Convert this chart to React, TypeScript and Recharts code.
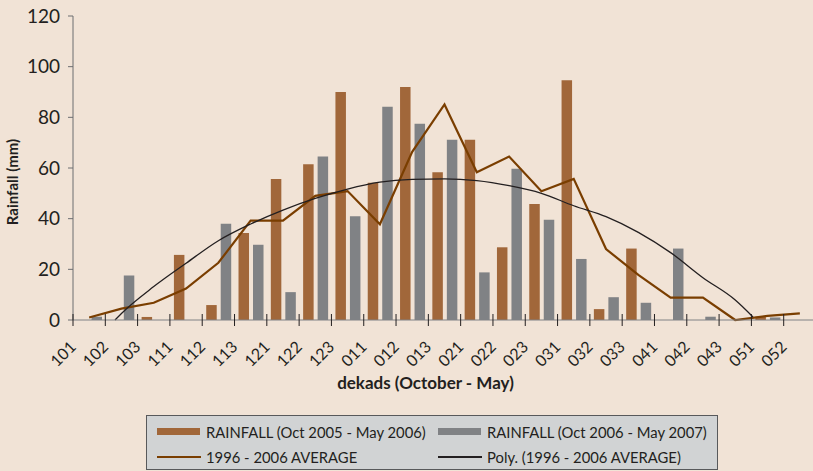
import { Bar, ComposedChart, Label, Line, XAxis, YAxis } from 'recharts';

const categories = ['101', '102', '103', '111', '112', '113', '121', '122', '123', '011', '012', '013', '021', '022', '023', '031', '032', '033', '041', '042', '043', '051', '052'];

// RAINFALL (Oct 2005 - May 2006)
const rain0506 = [0, 0, 1.2, 25.7, 5.9, 34.3, 55.7, 61.5, 90, 54.2, 92, 58.3, 71.2, 28.7, 45.8, 94.6, 4.3, 28.2, 0, 0, 0, 1.3, 0];
// RAINFALL (Oct 2006 - May 2007)
const rain0607 = [1.3, 17.6, 0, 0, 38, 29.7, 11, 64.5, 41, 84.2, 77.5, 71.2, 18.8, 59.7, 39.6, 24.1, 9, 6.8, 28.2, 1.3, 0, 1, 0];
// 1996 - 2006 AVERAGE
const average = [1.0, 4.5, 6.8, 12.4, 22.6, 39.2, 39.2, 49, 50.9, 37.8, 66.4, 85.1, 58.3, 64.5, 50.8, 55.7, 28.0, 17.8, 8.8, 8.8, 0, 1.6, 2.6];

// Poly. trendline (x in dekad units from the axis start)
const polyPos = [1.3, 1.5, 2.5, 3.5, 4.5, 5.5, 6.5, 7.5, 8.5, 9.5, 10.5, 11.5, 12.5, 13.5, 14.5, 15.5, 16.5, 17.5, 18.5, 19.5, 20.5, 21.05];
const polyVal = [0, 2.6, 13.2, 22.4, 31.3, 37.9, 43.4, 48.0, 51.7, 54.4, 55.5, 55.7, 55.0, 53.0, 50.0, 45.1, 40.8, 34.6, 26.6, 16.7, 7.9, 1.2];

const yTicks = [0, 20, 40, 60, 80, 100, 120];

const data = categories.map((cat, i) => ({
  cat,
  pos: i + 0.5,
  r1: rain0506[i],
  r2: rain0607[i],
  avg: average[i]
}));

const polyData = polyPos.map((pos, i) => ({ pos, poly: polyVal[i] }));

const tickPositions = categories.map((_, i) => i).concat(categories.length);

const BROWN = '#A1673A';
const GREY = '#808285';
const AVG = '#7A3E00';
const INK = '#231F20';

function DekadTick(props: any) {
  const { x, y, payload } = props;
  const label = categories[payload.value];
  const tx = x + 4;
  const ty = y + 28;
  return (
    <g>
      <line x1={x} x2={x} y1={y - 6} y2={y + 6} stroke={INK} strokeWidth={1} />
      {label && (
        <text x={tx} y={ty} transform={`rotate(-45, ${tx}, ${ty})`} textAnchor="end" fontSize={16} fill={INK}>
          {label}
        </text>
      )}
    </g>
  );
}

function LegendBox() {
  const item = (swatch: any, text: string) => (
    <div style={{ display: 'flex', alignItems: 'center', height: 25 }}>
      <div style={{ width: 44, marginRight: 5, display: 'flex', alignItems: 'center' }}>{swatch}</div>
      <span>{text}</span>
    </div>
  );
  return (
    <div
      style={{
        position: 'absolute',
        left: 146,
        top: 415,
        width: 572,
        height: 55,
        background: '#D1D3D4',
        border: '1px solid #58595B',
        fontSize: 14.8,
        color: INK,
        display: 'grid',
        gridTemplateColumns: '281px 280px',
        paddingLeft: 10,
        paddingTop: 3,
        boxSizing: 'border-box'
      }}
    >
      {item(<div style={{ width: 43, height: 7, background: BROWN }} />, 'RAINFALL (Oct 2005 - May 2006)')}
      {item(<div style={{ width: 43, height: 7, background: GREY }} />, 'RAINFALL (Oct 2006 - May 2007)')}
      {item(<div style={{ width: 44, height: 2, background: AVG }} />, '1996 - 2006 AVERAGE')}
      {item(<div style={{ width: 44, height: 2, background: INK }} />, 'Poly. (1996 - 2006 AVERAGE)')}
    </div>
  );
}

export default function App() {
  return (
    <div
      style={{
        position: 'absolute',
        left: 0,
        top: 0,
        width: 813,
        height: 471,
        overflow: 'hidden',
        background: '#F1E3D6',
        fontFamily: 'Lato, sans-serif'
      }}
    >
      <ComposedChart width={830} height={471} data={data} margin={{ top: 16, right: 14, bottom: 71, left: 0 }}>
        <XAxis xAxisId="cat" dataKey="cat" hide height={0} />
        <XAxis
          xAxisId="num"
          type="number"
          dataKey="pos"
          domain={[0, categories.length]}
          ticks={tickPositions}
          interval={0}
          tickLine={false}
          tickSize={0}
          tickMargin={0}
          tick={<DekadTick />}
          axisLine={{ stroke: '#808285' }}
          height={80}
          allowDataOverflow
        >
          <Label
            content={({ viewBox }: any) => (
              <text
                x={viewBox.x + viewBox.width / 2 - 19}
                y={viewBox.y + 69}
                textAnchor="middle"
                fontSize={17}
                fontWeight="bold"
                fill={INK}
              >
                dekads (October - May)
              </text>
            )}
          />
        </XAxis>
        <YAxis
          domain={[0, 120]}
          ticks={yTicks}
          width={73}
          tickSize={5}
          tickMargin={8}
          tick={{ fontSize: 19, fill: INK }}
          axisLine={{ stroke: '#6D6E71' }}
          tickLine={{ stroke: '#6D6E71' }}
        >
          <Label
            content={({ viewBox }: any) => {
              const cx = viewBox.x + 12;
              const cy = viewBox.y + viewBox.height / 2 + 14;
              return (
                <text
                  x={cx}
                  y={cy}
                  transform={`rotate(-90, ${cx}, ${cy})`}
                  textAnchor="middle"
                  dominantBaseline="central"
                  fontSize={15}
                  fontWeight="bold"
                  fill={INK}
                >
                  Rainfall (mm)
                </text>
              );
            }}
          />
        </YAxis>
        <Bar xAxisId="cat" dataKey="r1" fill={BROWN} barSize={10.5} isAnimationActive={false} />
        <Bar xAxisId="cat" dataKey="r2" fill={GREY} barSize={10.5} isAnimationActive={false} />
        <Line xAxisId="num" dataKey="avg" stroke={AVG} strokeWidth={2.2} dot={false} isAnimationActive={false} />
        <Line
          xAxisId="num"
          data={polyData}
          dataKey="poly"
          type="monotone"
          stroke={INK}
          strokeWidth={1.3}
          dot={false}
          isAnimationActive={false}
        />
      </ComposedChart>
      <LegendBox />
    </div>
  );
}
